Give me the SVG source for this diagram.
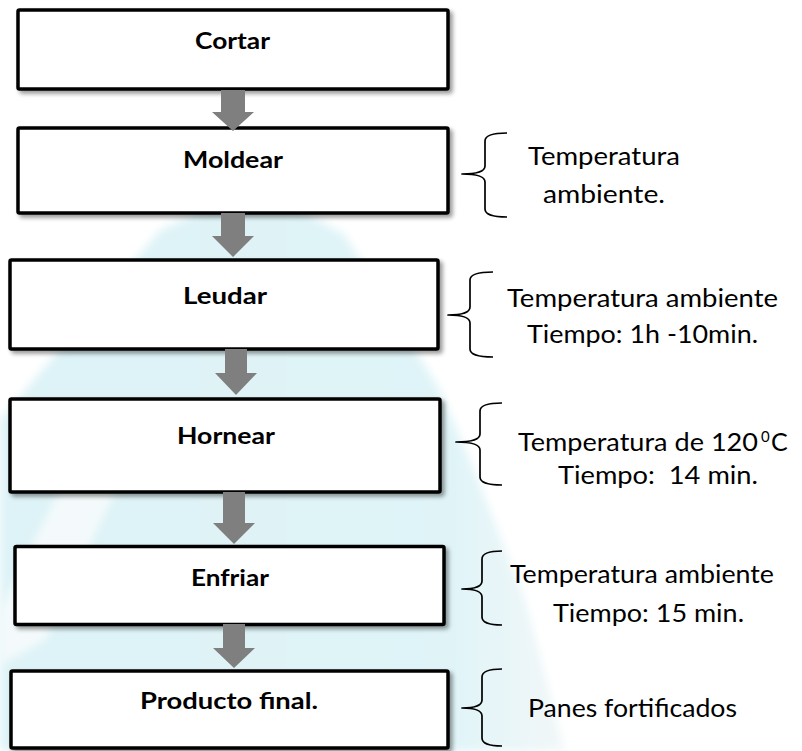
<svg xmlns="http://www.w3.org/2000/svg" width="802" height="751" viewBox="0 0 802 751">
<defs>
<style>
.box{fill:#fff;stroke:#000;stroke-width:3.5;filter:url(#sh)}
.lbl{font-family:Lato,"Liberation Sans",sans-serif;font-weight:bold;font-size:23.5px;fill:#000}
.note{font-family:Lato,"Liberation Sans",sans-serif;font-size:25px;fill:#000}
.brace{fill:none;stroke:#000;stroke-width:1.7;stroke-linejoin:round}
.arr{fill:#7f7f7f}
</style>
<filter id="sh" x="-5%" y="-10%" width="115%" height="130%">
<feDropShadow dx="3" dy="3" stdDeviation="2" flood-color="#000" flood-opacity="0.4"/>
</filter>
<filter id="blur" x="-20%" y="-20%" width="140%" height="140%">
<feGaussianBlur stdDeviation="4"/>
</filter>
<linearGradient id="wm" x1="0" y1="0" x2="1" y2="0">
<stop offset="0" stop-color="#def3f7"/>
<stop offset="0.8" stop-color="#e0f4f8"/>
<stop offset="1" stop-color="#f2f7f8"/>
</linearGradient>
</defs>
<rect width="802" height="751" fill="#fff"/>
<g id="watermark">
<polygon points="258,185 345,235 440,390 478,480 525,600 565,751 0,751 0,420 160,230" fill="url(#wm)" filter="url(#blur)"/>
<polygon points="70,470 125,470 45,640 0,665 0,610" fill="#f4fafb" filter="url(#blur)"/>
</g>
<g id="node-cortar">
<rect class="box" x="18" y="10" width="430" height="79" rx="1.5"/>
<text class="lbl" x="195" y="49" textLength="75" lengthAdjust="spacingAndGlyphs">Cortar</text>
</g>
<g id="node-moldear">
<rect class="box" x="18" y="128" width="430" height="85" rx="1.5"/>
<text class="lbl" x="183" y="168" textLength="100" lengthAdjust="spacingAndGlyphs">Moldear</text>
</g>
<g id="node-leudar">
<rect class="box" x="10" y="260" width="428" height="89" rx="1.5"/>
<text class="lbl" x="183" y="304" textLength="84" lengthAdjust="spacingAndGlyphs">Leudar</text>
</g>
<g id="node-hornear">
<rect class="box" x="10" y="399" width="430" height="93" rx="1.5"/>
<text class="lbl" x="177" y="444" textLength="98" lengthAdjust="spacingAndGlyphs">Hornear</text>
</g>
<g id="node-enfriar">
<rect class="box" x="15" y="546.5" width="429" height="78" rx="1.5"/>
<text class="lbl" x="191" y="586" textLength="78" lengthAdjust="spacingAndGlyphs">Enfriar</text>
</g>
<g id="node-producto">
<rect class="box" x="11" y="671" width="437" height="77" rx="1.5"/>
<text class="lbl" x="140" y="709" textLength="178" lengthAdjust="spacingAndGlyphs">Producto final.</text>
</g>
<g id="connectors">
<polygon class="arr" points="221,90 245,90 245,112 254,112 233,131 212,112 221,112"/>
<polygon class="arr" points="221,213 245,213 245,236 254,236 233,257 212,236 221,236"/>
<polygon class="arr" points="225,349 247,349 247,373 257,373 236,395 215,373 225,373"/>
<polygon class="arr" points="223,492 245,492 245,523 255,523 234,544 213,523 223,523"/>
<polygon class="arr" points="223,624 245,624 245,648 255,648 234,668 213,648 223,648"/>
</g>
<g id="note-moldear">
<path class="brace" d="M507,133 Q485,133 485,141 L485,166 Q485,174 462,174 Q485,174 485,182 L485,209 Q485,217 507,217"/>
<text class="note" x="528" y="165" textLength="152" lengthAdjust="spacingAndGlyphs">Temperatura</text>
<text class="note" x="543" y="203" textLength="122" lengthAdjust="spacingAndGlyphs">ambiente.</text>
</g>
<g id="note-leudar">
<path class="brace" d="M493,272 Q470,272 470,280 L470,307 Q470,315 448,315 Q470,315 470,323 L470,349 Q470,357 493,357"/>
<text class="note" x="507" y="307" textLength="271" lengthAdjust="spacingAndGlyphs">Temperatura ambiente</text>
<text class="note" x="527" y="343" textLength="231" lengthAdjust="spacingAndGlyphs">Tiempo: 1h -10min.</text>
</g>
<g id="note-hornear">
<path class="brace" d="M502,403 Q480,403 480,411 L480,434 Q480,442 456,442 Q480,442 480,450 L480,477 Q480,485 502,485"/>
<text class="note" y="451"><tspan x="518" textLength="240" lengthAdjust="spacingAndGlyphs">Temperatura de 120</tspan> <tspan x="761" y="442" font-size="15">0</tspan><tspan x="771" y="451">C</tspan></text>
<text class="note" x="558" y="484" xml:space="preserve" textLength="200" lengthAdjust="spacingAndGlyphs">Tiempo:  14 min.</text>
</g>
<g id="note-enfriar">
<path class="brace" d="M502,551 Q482,551 482,559 L482,581 Q482,589 462,589 Q482,589 482,597 L482,617 Q482,625 502,625"/>
<text class="note" x="510" y="583" textLength="264" lengthAdjust="spacingAndGlyphs">Temperatura ambiente</text>
<text class="note" x="553" y="622" textLength="191" lengthAdjust="spacingAndGlyphs">Tiempo: 15 min.</text>
</g>
<g id="note-producto">
<path class="brace" d="M502,669 Q482,669 482,677 L482,700 Q482,708 462,708 Q482,708 482,716 L482,738 Q482,746 502,746"/>
<text class="note" x="528" y="717" textLength="209" lengthAdjust="spacingAndGlyphs">Panes fortificados</text>
</g>
</svg>
